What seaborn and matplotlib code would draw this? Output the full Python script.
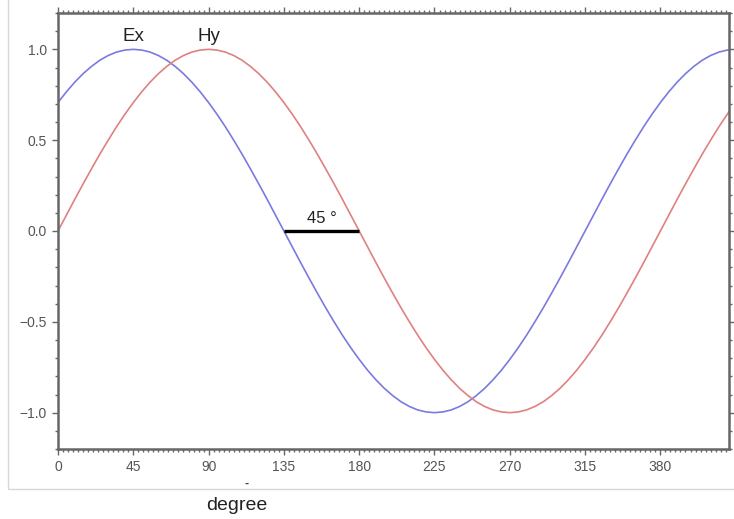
import pandas as pd
import matplotlib
matplotlib.use('Agg')
import matplotlib.pyplot as plt
import seaborn as sns
from matplotlib.ticker import MultipleLocator
from matplotlib.patches import Rectangle

# angle (degree), every 5 degrees
degree = list(range(0, 406, 5))

ex = [0.707, 0.766, 0.819, 0.866, 0.906, 0.940, 0.966, 0.985, 0.996,
      1.0,
      0.996, 0.985, 0.966, 0.940, 0.906, 0.866, 0.819, 0.766, 0.707,
      0.643, 0.574, 0.500, 0.423, 0.342, 0.259, 0.174, 0.087,
      0.0,
      -0.087, -0.174, -0.259, -0.342, -0.423, -0.500, -0.574, -0.643, -0.707,
      -0.766, -0.819, -0.866, -0.906, -0.940, -0.966, -0.985, -0.996,
      -1.0,
      -0.996, -0.985, -0.966, -0.940, -0.906, -0.866, -0.819, -0.766, -0.707,
      -0.643, -0.574, -0.500, -0.423, -0.342, -0.259, -0.174, -0.087,
      0.0,
      0.087, 0.174, 0.259, 0.342, 0.423, 0.500, 0.574, 0.643, 0.707,
      0.766, 0.819, 0.866, 0.906, 0.940, 0.966, 0.985, 0.996,
      1.0]

hy = [0.0, 0.087, 0.174, 0.259, 0.342, 0.423, 0.500, 0.574, 0.643,
      0.707, 0.766, 0.819, 0.866, 0.906, 0.940, 0.966, 0.985, 0.996,
      1.0, 0.996, 0.985, 0.966, 0.940, 0.906, 0.866, 0.819, 0.766,
      0.707, 0.643, 0.574, 0.500, 0.423, 0.342, 0.259, 0.174, 0.087,
      0.0, -0.087, -0.174, -0.259, -0.342, -0.423, -0.500, -0.574, -0.643,
      -0.707, -0.766, -0.819, -0.866, -0.906, -0.940, -0.966, -0.985, -0.996,
      -1.0, -0.996, -0.985, -0.966, -0.940, -0.906, -0.866, -0.819, -0.766,
      -0.707, -0.643, -0.574, -0.500, -0.423, -0.342, -0.259, -0.174, -0.087,
      0.0, 0.087, 0.174, 0.259, 0.342, 0.423, 0.500, 0.574, 0.643, 0.707]

xticks = [0, 45, 90, 135, 180, 225, 270, 315, 360]
xticklabels = ['0', '45', '90', '135', '180', '225', '270', '315', '380']
yticks = [-1.0, -0.5, 0.0, 0.5, 1.0]
yticklabels = ['−1.0', '−0.5', '0.0', '0.5', '1.0']

# marcador de defasagem
shift_start = 135
shift_end = 180

sns.set_theme(style="ticks")
plt.rcParams['font.family'] = ['Liberation Sans', 'DejaVu Sans']

df = pd.DataFrame({'degree': degree, 'Ex': ex, 'Hy': hy})

fig = plt.figure(figsize=(7.34, 5.19), dpi=100)
# moldura cinza em volta do gráfico
fig.patches.append(Rectangle((8 / 734, (519 - 489) / 519), 0.995, 1.0,
                             transform=fig.transFigure, fill=False,
                             edgecolor='#d8d8d8', linewidth=1.0))
ax = fig.add_axes([58 / 734, (519 - 449) / 519, 671 / 734, 436 / 519])

sns.lineplot(data=df, x='degree', y='Ex', ax=ax, color='#7a7ae0', linewidth=1.2)
sns.lineplot(data=df, x='degree', y='Hy', ax=ax, color='#e08080', linewidth=1.2)

ax.plot([shift_start, shift_end], [0, 0], color='black', linewidth=2.4,
        solid_capstyle='butt')
ax.text((shift_start + shift_end) / 2, 0.07, '45 °', ha='center', va='center',
        fontsize=12, color='#222222')
ax.text(45, 1.07, 'Ex', ha='center', va='center', fontsize=13.5, color='#222222')
ax.text(90, 1.07, 'Hy', ha='center', va='center', fontsize=13.5, color='#222222')

ax.set_xlim(0, 401)
ax.set_ylim(-1.2, 1.2)
ax.set_xticks(xticks)
ax.set_xticklabels(xticklabels)
ax.set_yticks(yticks)
ax.set_yticklabels(yticklabels)
ax.xaxis.set_minor_locator(MultipleLocator(3))
ax.yaxis.set_minor_locator(MultipleLocator(0.1))
ax.tick_params(which='both', direction='out', top=True, right=True,
               color='#666666', width=1.0)
ax.tick_params(which='major', length=4, labelsize=10, labelcolor='#555555', pad=4)
ax.tick_params(which='minor', length=2)
for s in ax.spines.values():
    s.set_color('#666666')
    s.set_linewidth(1.8)
ax.set_xlabel('')
ax.set_ylabel('')

fig.text(247 / 734, 1 - 484 / 519, '-', ha='center', va='center', fontsize=9,
         fontweight='bold', color='#444444')
fig.text(237 / 734, 1 - 505 / 519, 'degree', ha='center', va='center',
         fontsize=14, color='#222222')

fig.savefig('out.png', dpi=100)
